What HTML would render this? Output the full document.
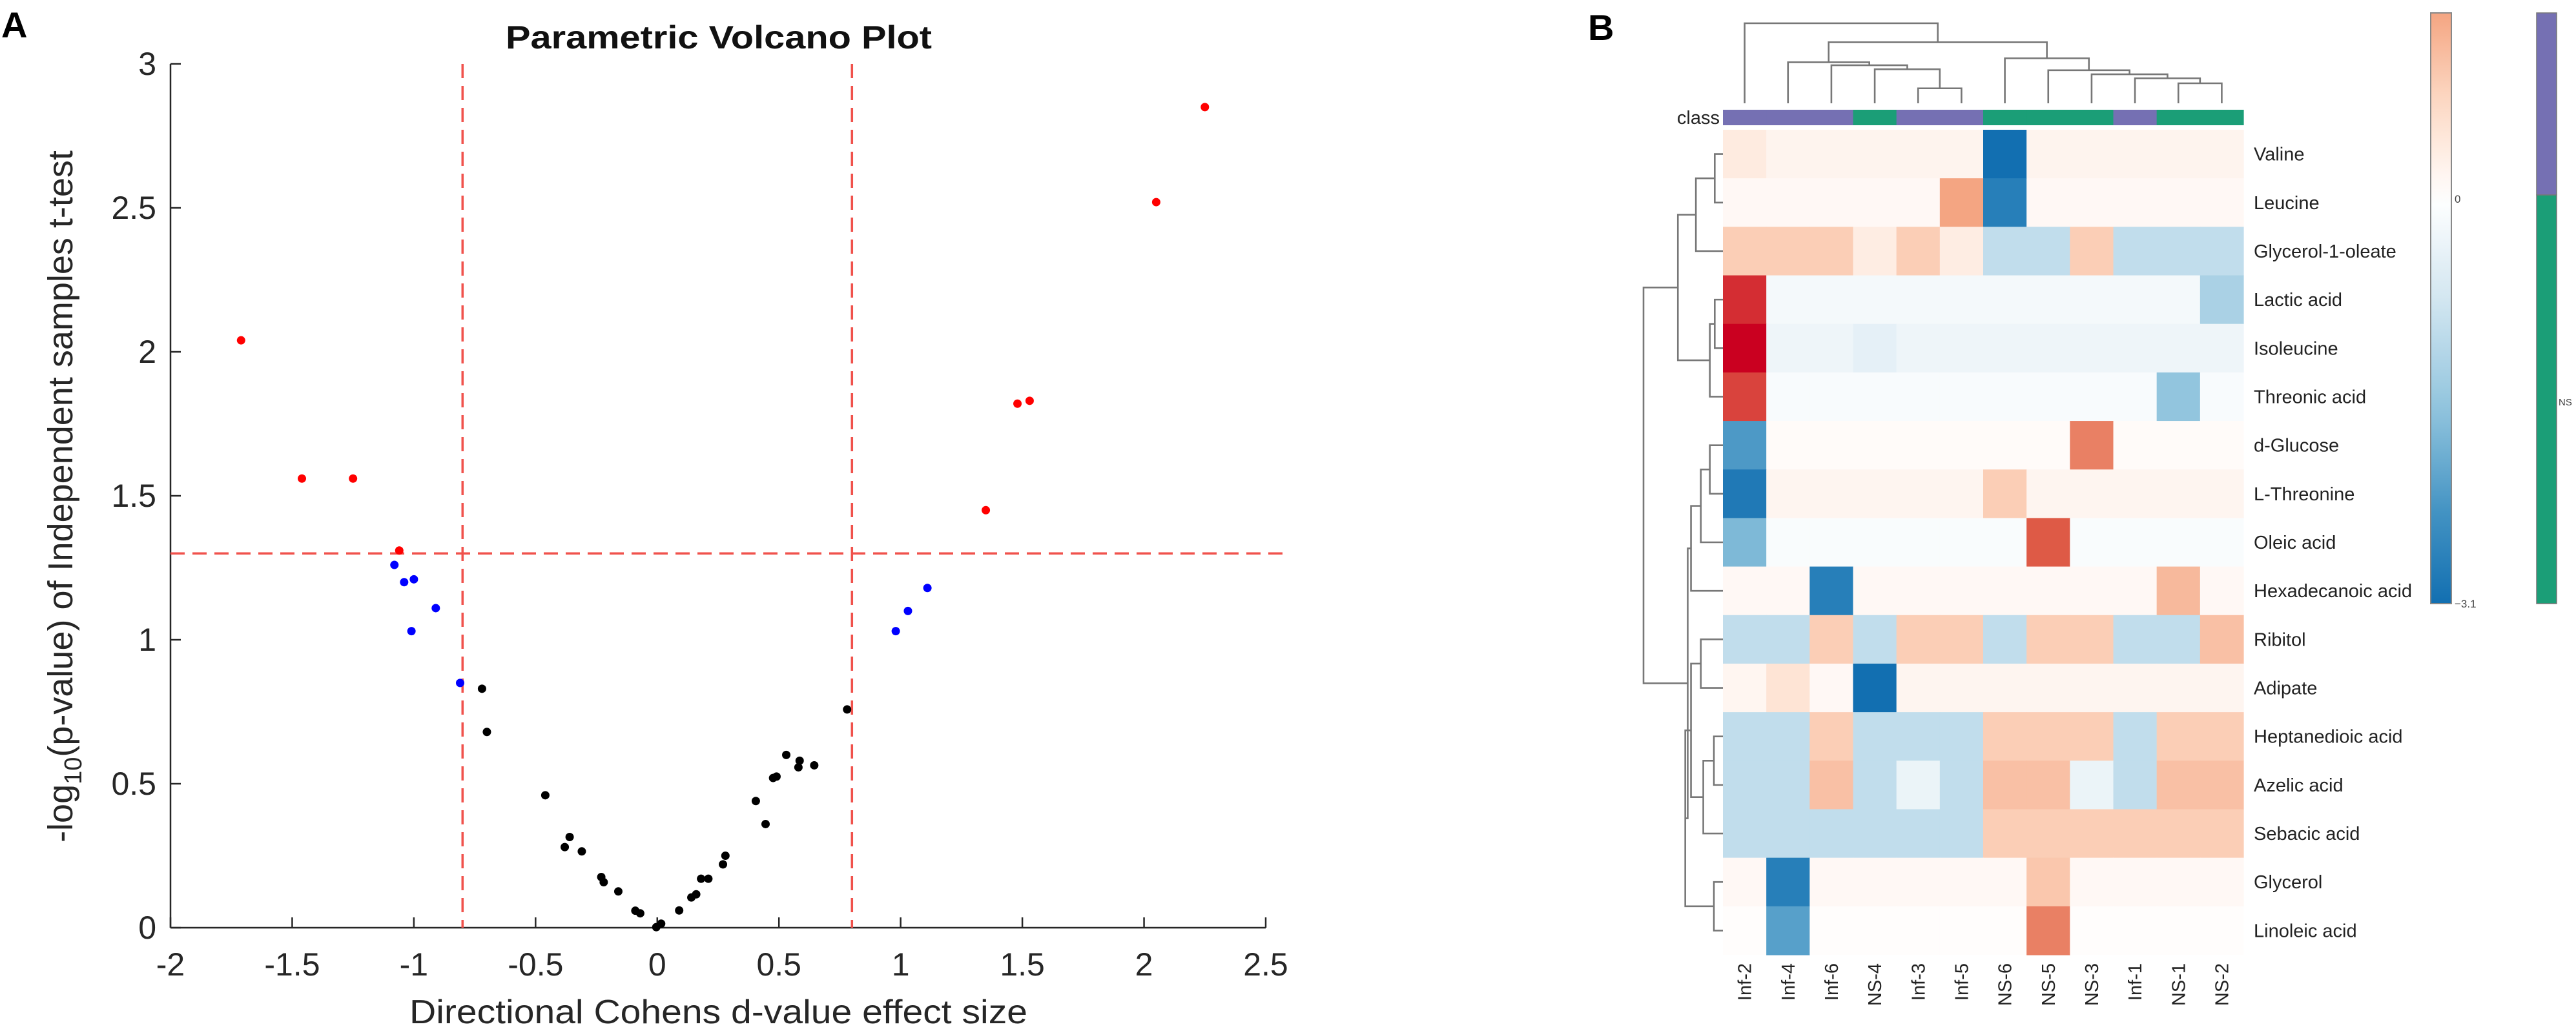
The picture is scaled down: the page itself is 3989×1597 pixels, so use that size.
<!DOCTYPE html>
<html><head><meta charset="utf-8"><style>
html,body{margin:0;padding:0;background:#fff;}
svg{display:block;font-family:"Liberation Sans",sans-serif;}
</style></head><body>
<svg id="fig" width="3989" height="1597" viewBox="0 0 3989 1597" xmlns="http://www.w3.org/2000/svg">
<text x="2" y="58" font-size="56" font-weight="bold">A</text>
<text x="783" y="75" font-size="50" font-weight="bold" textLength="660" lengthAdjust="spacingAndGlyphs" fill="#111">Parametric Volcano Plot</text>
<g id="volcano"></g>
<text x="2459" y="62" font-size="56" font-weight="bold">B</text>
<g id="heat"></g>
</svg>
<script>
const NS="http://www.w3.org/2000/svg";
function mk(tag,attrs,parent,txt){const e=document.createElementNS(NS,tag);for(const k in attrs)e.setAttribute(k,attrs[k]);if(txt!==undefined)e.textContent=txt;parent.appendChild(e);return e;}

// ---------- Volcano data ----------
const redX=[-1.71,-1.46,-1.25,-1.06,1.35,1.48,1.53,2.05,2.25];
const redY=[2.04,1.56,1.56,1.31,1.45,1.82,1.83,2.52,2.85];
const blueX=[-1.08,-1.04,-1.0,-0.91,-1.01,-0.81,0.98,1.03,1.11];
const blueY=[1.26,1.20,1.21,1.11,1.03,0.85,1.03,1.10,1.18];
const blackX=[-0.72,-0.70,-0.46,-0.38,-0.36,-0.31,-0.23,-0.22,-0.16,-0.09,-0.07,-0.004,0.016,0.09,0.14,0.16,0.18,0.21,0.27,0.28,0.405,0.445,0.476,0.49,0.53,0.58,0.585,0.645,0.78];
const blackY=[0.83,0.68,0.46,0.28,0.315,0.265,0.176,0.158,0.126,0.059,0.05,0.002,0.014,0.06,0.105,0.116,0.17,0.17,0.22,0.25,0.44,0.36,0.52,0.525,0.60,0.557,0.58,0.564,0.758];
const xTicks=[-2,-1.5,-1,-0.5,0,0.5,1,1.5,2,2.5];
const xTickLabels=["-2","-1.5","-1","-0.5","0","0.5","1","1.5","2","2.5"];
const yTicks=[0,0.5,1,1.5,2,2.5,3];
const yTickLabels=["0","0.5","1","1.5","2","2.5","3"];
const vThresh=[-0.8,0.8];
const hThresh=[1.3];

const X0=264,X1=1960,Y0=1437,Y1=99;
const sx=v=>X0+(v-(-2))/(4.5)*(X1-X0);
const sy=v=>Y0-(v/3)*(Y0-Y1);
const vg=document.getElementById('volcano');
mk('line',{x1:X0,y1:Y0,x2:X1,y2:Y0,stroke:'#262626','stroke-width':2.5,},vg);
mk('line',{x1:X0,y1:Y0,x2:X0,y2:Y1,stroke:'#262626','stroke-width':2.5,},vg);
xTicks.forEach((t,i)=>{
  const l=mk('line',{x1:sx(t),y1:Y0,x2:sx(t),y2:Y0-16,stroke:'#262626','stroke-width':2.5},vg);
  
  
  const tx=mk('text',{x:sx(t),y:Y0+74,'font-size':50,'text-anchor':'middle',fill:'#262626'},vg,xTickLabels[i]);
  
  
});
yTicks.forEach((t,i)=>{
  const l=mk('line',{x1:X0,y1:sy(t),x2:X0+16,y2:sy(t),stroke:'#262626','stroke-width':2.5},vg);
  
  
  const tx=mk('text',{x:X0-22,y:sy(t)+17,'font-size':50,'text-anchor':'end',fill:'#262626'},vg,yTickLabels[i]);
  
  
});
vThresh.forEach(v=>{
  const l=mk('line',{x1:sx(v),y1:Y1,x2:sx(v),y2:Y0,stroke:'#f0524c','stroke-width':3.5,'stroke-dasharray':'22,12'},vg);
  
  
});
hThresh.forEach(v=>{
  const l=mk('line',{x1:X0,y1:sy(v),x2:1995,y2:sy(v),stroke:'#f0524c','stroke-width':3.5,'stroke-dasharray':'22,12'},vg);
  
  
});
function pts(xs,ys,col,name){xs.forEach((x,i)=>{
  const c=mk('circle',{cx:sx(x),cy:sy(ys[i]),r:6.5,fill:col},vg);
  
  
});}
pts(blackX,blackY,'#000','point-nonsignificant');
pts(blueX,blueY,'#0000ff','point-near-threshold');
pts(redX,redY,'#ff0000','point-significant');
const xl=mk('text',{x:634,y:1585,'font-size':52,textLength:957,lengthAdjust:'spacingAndGlyphs',fill:'#262626'},vg,'Directional Cohens d-value effect size');


const yl=mk('text',{transform:'translate(112,769) rotate(-90)','font-size':54,'text-anchor':'middle',fill:'#262626'},vg);


mk('tspan',{},yl,'-log');
mk('tspan',{dy:14,'font-size':38},yl,'10');
mk('tspan',{dy:-14},yl,'(p-value) of Independent samples t-test');

// ---------- Heatmap data ----------
const colLabels=["Inf-2","Inf-4","Inf-6","NS-4","Inf-3","Inf-5","NS-6","NS-5","NS-3","Inf-1","NS-1","NS-2"];
const colClass=["Inf","Inf","Inf","NS","Inf","Inf","NS","NS","NS","Inf","NS","NS"];
const rowLabels=["Valine","Leucine","Glycerol-1-oleate","Lactic acid","Isoleucine","Threonic acid","d-Glucose","L-Threonine","Oleic acid","Hexadecanoic acid","Ribitol","Adipate","Heptanedioic acid","Azelic acid","Sebacic acid","Glycerol","Linoleic acid"];
const r0=[0.45,0.25,0.25,0.25,0.25,0.25,-3.1,0.25,0.25,0.25,0.25,0.25];
const r1=[0.15,0.15,0.15,0.15,0.15,1.6,-2.8,0.15,0.15,0.15,0.15,0.15];
const r2=[1.0,1.0,1.0,0.4,1.0,0.4,-1.0,-1.0,1.0,-1.0,-1.0,-1.0];
const r3=[2.8,-0.2,-0.2,-0.2,-0.2,-0.2,-0.2,-0.2,-0.2,-0.2,-0.2,-1.3];
const r4=[3.2,-0.3,-0.3,-0.45,-0.3,-0.3,-0.3,-0.3,-0.3,-0.3,-0.3,-0.3];
const r5=[2.6,-0.12,-0.12,-0.12,-0.12,-0.12,-0.12,-0.12,-0.12,-0.12,-1.6,-0.12];
const r6=[-2.3,0.08,0.08,0.08,0.08,0.08,0.08,0.08,2.0,0.08,0.08,0.08];
const r7=[-2.9,0.22,0.22,0.22,0.22,0.22,1.0,0.22,0.22,0.22,0.22,0.22];
const r8=[-1.8,-0.1,-0.1,-0.1,-0.1,-0.1,-0.1,2.4,-0.1,-0.1,-0.1,-0.1];
const r9=[0.15,0.15,-2.8,0.15,0.15,0.15,0.15,0.15,0.15,0.15,1.3,0.15];
const r10=[-1.0,-1.0,1.0,-1.0,1.0,1.0,-1.0,1.0,1.0,-1.0,-1.0,1.2];
const r11=[0.2,0.6,0.15,-3.1,0.22,0.22,0.22,0.22,0.22,0.22,0.22,0.22];
const r12=[-1.0,-1.0,1.0,-1.0,-1.0,-1.0,1.0,1.0,1.0,-1.0,1.0,1.0];
const r13=[-1.0,-1.0,1.2,-1.0,-0.35,-1.0,1.2,1.2,-0.35,-1.0,1.2,1.2];
const r14=[-1.0,-1.0,-1.0,-1.0,-1.0,-1.0,1.0,1.0,1.0,1.0,1.0,1.0];
const r15=[0.15,-2.8,0.15,0.15,0.15,0.15,0.15,1.1,0.15,0.15,0.15,0.15];
const r16=[0.05,-2.2,0.05,0.05,0.05,0.05,0.05,2.0,0.05,0.05,0.05,0.05];
const values=[r0,r1,r2,r3,r4,r5,r6,r7,r8,r9,r10,r11,r12,r13,r14,r15,r16];
const colMerges=[["L4","L5",0.15],["L3","M0",0.34],["L2","M1",0.38],["L1","M2",0.41],["L10","L11",0.2],["L9","M4",0.25],["L8","M5",0.29],["L7","M6",0.33],["L6","M7",0.45],["M3","M8",0.61],["L0","M9",0.8]];
const rowMerges=[["L0","L1",0.10],["M0","L2",0.33],["L3","L4",0.10],["M2","L5",0.16],["M1","M3",0.55],["L6","L7",0.16],["M5","L8",0.27],["M6","L9",0.39],["L10","L11",0.27],["L12","L13",0.11],["M9","L14",0.24],["M8","M10",0.39],["L15","L16",0.11],["M11","M12",0.46],["M7","M13",0.43],["M4","M14",0.97]];

const hg=document.getElementById('heat');
const HX0=2668,HX1=3474,HY0=201,HY1=1479;
const cw=(HX1-HX0)/colLabels.length, rh=(HY1-HY0)/rowLabels.length;
const stops=[[-1,[5,48,97]],[-0.8,[11,106,174]],[-0.6,[67,147,195]],[-0.4,[146,197,222]],[-0.2,[209,229,240]],[0,[255,255,255]],[0.2,[253,219,199]],[0.4,[244,165,130]],[0.6,[222,90,70]],[0.8,[202,0,32]],[1,[103,0,31]]];
function cmap(v){let t=Math.max(-1,Math.min(1,v/4));
  for(let i=0;i<stops.length-1;i++){const a=stops[i],b=stops[i+1];if(t>=a[0]&&t<=b[0]){const f=(t-a[0])/(b[0]-a[0]);const c=a[1].map((x,k)=>Math.round(x+(b[1][k]-x)*f));return `rgb(${c})`;}}
  return 'rgb(255,255,255)';}
values.forEach((row,r)=>row.forEach((v,c)=>{
  const e=mk('rect',{x:HX0+c*cw,y:HY0+r*rh,width:cw+0.6,height:rh+0.6,fill:cmap(v)},hg);
  
  
}));
const classCol={Inf:'#7570b3',NS:'#1b9e77'};
colClass.forEach((k,c)=>{
  const e=mk('rect',{x:HX0+c*cw,y:170,width:cw+0.6,height:24,fill:classCol[k]},hg);
  
  
});
const cl=mk('text',{x:2663,y:192,'font-size':29,'text-anchor':'end',fill:'#222'},hg,'class');


rowLabels.forEach((s,r)=>{
  const e=mk('text',{x:3490,y:HY0+(r+0.5)*rh+10,'font-size':29,fill:'#222'},hg,s);
  
  
});
colLabels.forEach((s,c)=>{
  const cx=HX0+(c+0.5)*cw+10;
  const e=mk('text',{transform:`translate(${cx},1492) rotate(-90)`,'font-size':29,'text-anchor':'end',fill:'#222'},hg,s);
  
  
});
function dendro(merges,nLeaves,leafPos,heightPos,horizontal,name){
  const pos={},ht={};
  for(let i=0;i<nLeaves;i++){pos['L'+i]=leafPos(i);ht['L'+i]=0;}
  merges.forEach((m,i)=>{
    const a=m[0],b=m[1],h=m[2];const pa=pos[a],pb=pos[b];
    const hp=heightPos(h),ha=heightPos(ht[a]),hb=heightPos(ht[b]);
    let d;
    if(horizontal) d=`M${pa},${ha} L${pa},${hp} L${pb},${hp} L${pb},${hb}`;
    else d=`M${ha},${pa} L${hp},${pa} L${hp},${pb} L${hb},${pb}`;
    const e=mk('path',{d:d,fill:'none',stroke:'#777','stroke-width':2.6},hg);
    
    
    pos['M'+i]=(pa+pb)/2;ht['M'+i]=h;
  });
}
dendro(colMerges,12,i=>HX0+(i+0.5)*cw,h=>160-h*(160-36)/0.8,true,'column-dendrogram-link');
dendro(rowMerges,17,i=>HY0+(i+0.5)*rh,h=>2668-h*(2668-2545)/0.97,false,'row-dendrogram-link');

const defs=mk('defs',{},hg);
const gr=mk('linearGradient',{id:'cbg',x1:0,y1:0,x2:0,y2:1},defs);
const CBY0=20,CBY1=935,CBZ=308;
const cby=v=>v>=0?CBZ-(v/1.6)*(CBZ-CBY0):CBZ+(v/-3.1)*(CBY1-CBZ);
for(let i=0;i<=20;i++){const v=1.6-(i/20)*(4.7);mk('stop',{offset:((cby(v)-CBY0)/(CBY1-CBY0)).toFixed(4),'stop-color':cmap(v)},gr);}
const cb=mk('rect',{x:3764,y:CBY0,width:32,height:CBY1-CBY0,fill:'url(#cbg)',stroke:'#888','stroke-width':2},hg);


[[0,'0'],[-3.1,'\u22123.1']].forEach(p=>{
  const e=mk('text',{x:3801,y:cby(p[0])+6,'font-size':17,fill:'#444'},hg,p[1]);
  
  
});
const cp=mk('rect',{x:3928,y:20,width:31,height:282,fill:'#7570b3',stroke:'#777','stroke-width':1.5},hg);


const cg=mk('rect',{x:3928,y:302,width:31,height:633,fill:'#1b9e77',stroke:'#777','stroke-width':1.5},hg);


const nsl=mk('text',{x:3962,y:628,'font-size':15,fill:'#444'},hg,'NS');


</script>
</body></html>
